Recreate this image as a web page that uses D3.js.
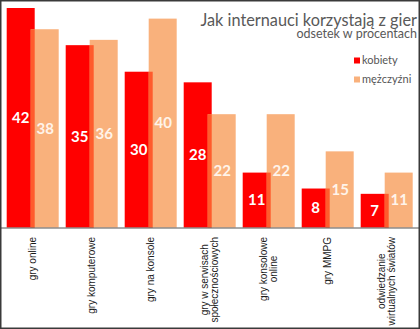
<!DOCTYPE html>
<html><head><meta charset="utf-8">
<script src="https://cdn.jsdelivr.net/npm/d3@7"></script>
<style>body{margin:0;background:#fff}svg{display:block}</style>
</head><body>
<svg id="c" width="420" height="329"></svg>
<script>
const categories = [
  ["gry online"],
  ["gry komputerowe"],
  ["gry na konsole"],
  ["gry w serwisach","społecznościowych"],
  ["gry konsolowe","online"],
  ["gry MMPG"],
  ["odwiedzanie","wirtualnych światów"]
];
const kobiety = [42, 35, 30, 28, 11, 8, 7];
const mezczyzni = [38, 36, 40, 22, 22, 15, 11];
const seriesNames = ["kobiety", "mężczyźni"];
const title = "Jak internauci korzystają z gier";
const subtitle = "odsetek w procentach";

const colRed = "#ff0000", colSalmon = "#f9b17c", colOverlap = "#ff5b2c";
const svg = d3.select("#c");
const W = 420, H = 329;
const base = 227.5;

const x = d3.scaleBand().domain(d3.range(categories.length)).range([6.7, 6.7 + 59 * 7]).paddingInner(0).paddingOuter(0);
const y = d3.scaleLinear().domain([0, 42]).range([231, 8]);
const barW = 28, off = 24;

const g = svg.append("g");
categories.forEach((c, i) => {
  const gx = x(i);
  const yr = y(kobiety[i]), ys = y(mezczyzni[i]);
  g.append("rect").attr("x", gx).attr("y", yr).attr("width", barW).attr("height", base - yr).attr("fill", colRed);
  g.append("rect").attr("x", gx + off).attr("y", ys).attr("width", barW).attr("height", base - ys).attr("fill", colSalmon);
  const yo = Math.max(yr, ys);
  g.append("rect").attr("x", gx + off).attr("y", yo).attr("width", barW - off).attr("height", base - yo).attr("fill", colOverlap);
  g.append("text").attr("x", gx + barW / 2).attr("y", (yr + base) / 2).attr("dy", "0.36em")
    .attr("text-anchor", "middle").attr("font-family", "Lato, sans-serif").attr("font-weight", "bold")
    .attr("font-size", 15).attr("fill", "#fff").text(kobiety[i]);
  g.append("text").attr("x", gx + off + barW / 2 + 0.5).attr("y", (ys + base) / 2).attr("dy", "0.36em")
    .attr("text-anchor", "middle").attr("font-family", "Lato, sans-serif").attr("font-weight", "bold")
    .attr("font-size", 15).attr("fill", "#fff4ea").text(mezczyzni[i]);

  // category labels
  const cx = gx + 26;
  const lg = svg.append("g");
  const lines = c.map((t, k) => lg.append("text").attr("font-family", "Liberation Sans, Arial, sans-serif")
    .attr("font-size", 10).attr("fill", "#1a1a1a").attr("text-anchor", "middle").text(t));
  const maxW = d3.max(lines, l => l.node().getComputedTextLength());
  const cy = 237 + maxW / 2;
  const n = lines.length, lh = 10.5;
  lines.forEach((l, k) => {
    const px = cx + (k - (n - 1) / 2) * lh + 3.5;
    l.attr("transform", `translate(${px},${cy}) rotate(-90)`);
  });
});

// axis line
svg.append("line").attr("x1", 0).attr("x2", W).attr("y1", base + 0.5).attr("y2", base + 0.5)
  .attr("stroke", "#555").attr("stroke-width", 1);

// title
svg.append("text").attr("x", 417).attr("y", 25.5).attr("text-anchor", "end")
  .attr("font-family", "Lato, sans-serif").attr("font-size", 16.3).attr("fill", "#595959").text(title);
svg.append("text").attr("x", 417).attr("y", 38).attr("text-anchor", "end")
  .attr("font-family", "Lato, sans-serif").attr("font-size", 12.5).attr("fill", "#595959").text(subtitle);

// legend
const leg = [colRed, colSalmon];
seriesNames.forEach((s, i) => {
  const ly = 60.5 + i * 19;
  svg.append("rect").attr("x", 354).attr("y", ly - 3).attr("width", 6).attr("height", 6).attr("fill", leg[i]);
  svg.append("text").attr("x", 362).attr("y", ly + 3.5).attr("font-family", "Lato, sans-serif")
    .attr("font-size", 11).attr("fill", "#555").text(s);
});

// frame
svg.append("rect").attr("x", 0.75).attr("y", 0.75).attr("width", W - 1.5).attr("height", H - 1.5)
  .attr("fill", "none").attr("stroke", "#3a3a3a").attr("stroke-width", 1.5);
</script>
</body></html>
